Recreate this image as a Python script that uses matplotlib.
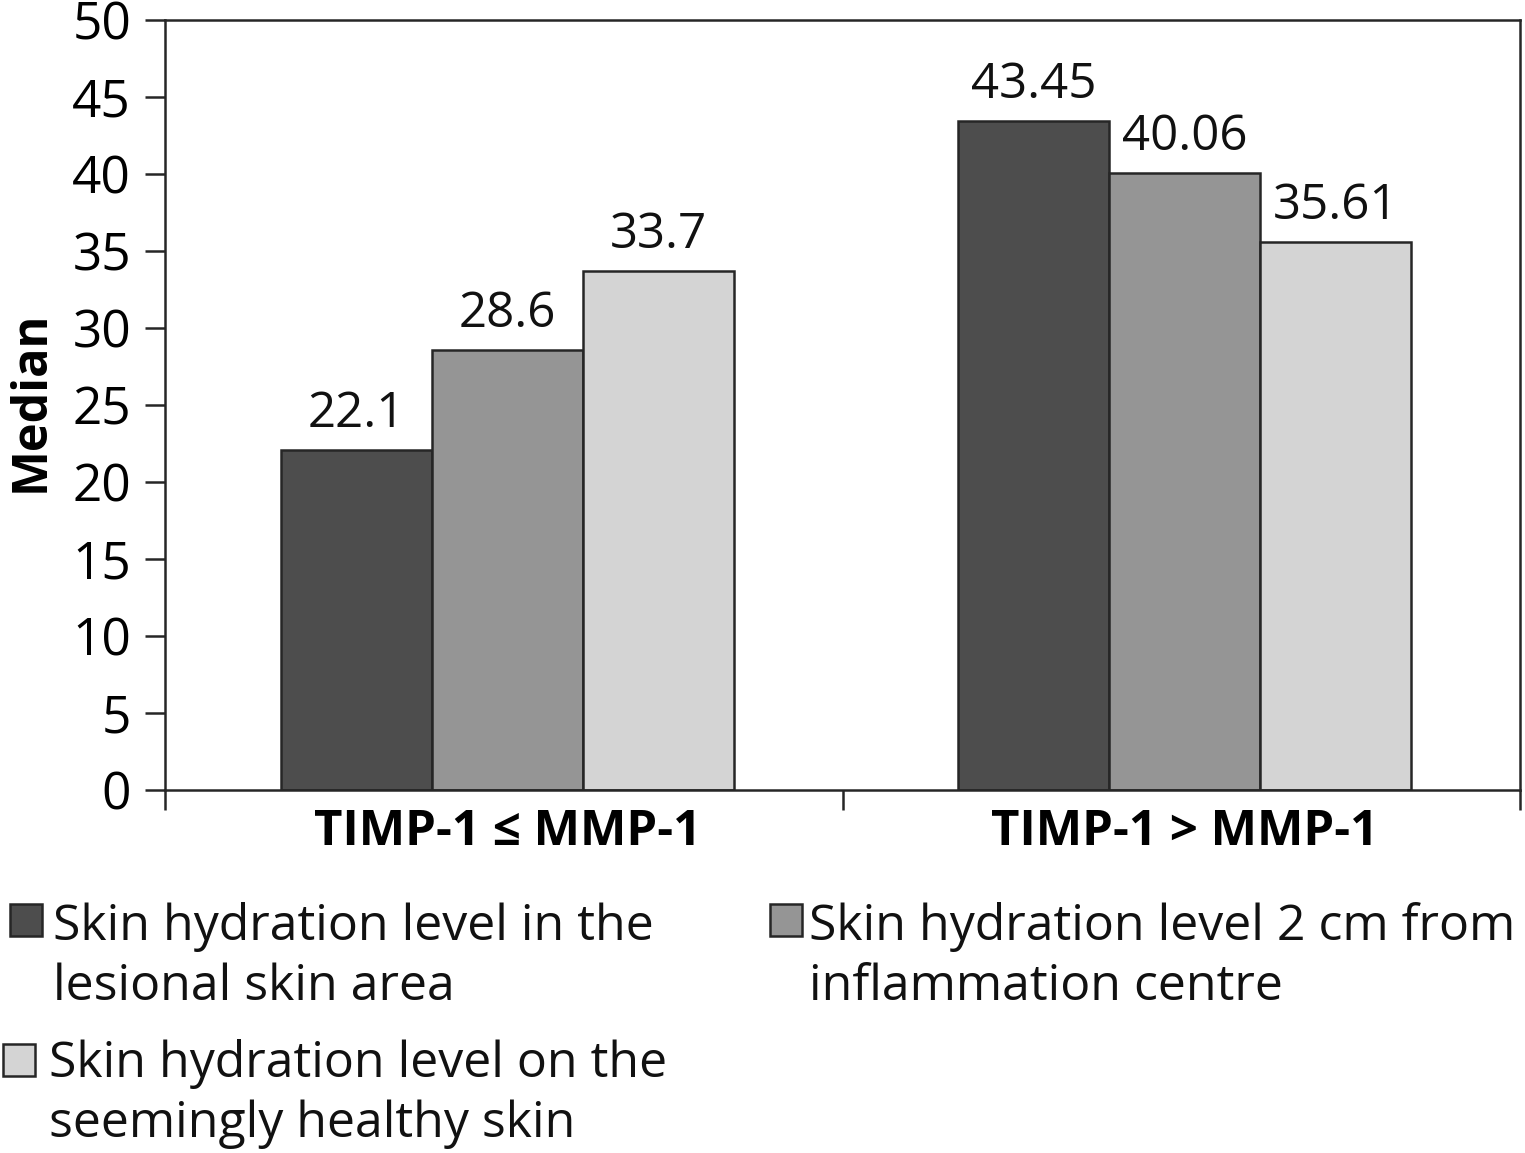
import matplotlib
matplotlib.use("Agg")
import matplotlib.pyplot as plt
from matplotlib.patches import Rectangle
import numpy as np

plt.rcParams['font.family'] = ['Open Sans', 'DejaVu Sans']

groups = ['TIMP-1 ≤ MMP-1', 'TIMP-1 > MMP-1']
series_names = [['Skin hydration level in the', 'lesional skin area'],
                ['Skin hydration level 2 cm from', 'inflammation centre'],
                ['Skin hydration level on the', 'seemingly healthy skin']]
lesional = [22.1, 43.45]
two_cm = [28.6, 40.06]
healthy = [33.7, 35.61]
labels_lesional = ['22.1', '43.45']
labels_two_cm = ['28.6', '40.06']
labels_healthy = ['33.7', '35.61']

colors = ['#4d4d4d', '#959595', '#d4d4d4']
edge = '#262626'

W, H = 1525, 1153
fig = plt.figure(figsize=(W / 100, H / 100), dpi=100)
ax = fig.add_axes([165 / W, 1 - 790 / H, 1355 / W, 770 / H])

x = np.arange(len(groups))
w = 0.223
all_vals = [lesional, two_cm, healthy]
all_labels = [labels_lesional, labels_two_cm, labels_healthy]
for i, (vals, labs) in enumerate(zip(all_vals, all_labels)):
    bars = ax.bar(x + 0.005 + (i - 1) * w, vals, w, color=colors[i], edgecolor=edge,
                  linewidth=1.8)
    for b, lab in zip(bars, labs):
        ax.text(b.get_x() + b.get_width() / 2, b.get_height() + 0.7, lab,
                ha='center', va='bottom', fontsize=35.5, color='#111111')

ax.set_xlim(-0.5, 1.5)
ax.set_ylim(0, 50)
ax.set_yticks(range(0, 51, 5))
ax.tick_params(axis='y', labelsize=37, length=14.4, width=1.8, color=edge, pad=10)
ax.set_xticks([-0.5, 0.5, 1.5])
ax.set_xticklabels([])
ax.tick_params(axis='x', length=14.4, width=1.8, color=edge)
for xi, g in zip(x, groups):
    ax.text(xi + 0.005, -1.2, g, ha='center', va='top', fontsize=35.5, fontweight='bold')
for s in ax.spines.values():
    s.set_linewidth(1.8)
    s.set_color(edge)
fig.text(31 / W, 1 - 401 / H, 'Median', rotation=90, ha='center', va='center',
         fontsize=35, fontweight='bold')

# legend drawn by hand so that each box sits beside the first line of its label
legend_pos = [(10, 904, 53, 940), (770, 904, 809, 940), (3, 1044, 49, 1077)]
for (bx, by, tx, ty), c, name in zip(legend_pos, colors, series_names):
    fig.add_artist(Rectangle((bx / W, 1 - (by + 32) / H), 32 / W, 32 / H,
                             transform=fig.transFigure, facecolor=c,
                             edgecolor=edge, linewidth=1.8))
    for k, line in enumerate(name):
        fig.text(tx / W, 1 - (ty + 60 * k) / H, line, ha='left', va='baseline',
                 fontsize=36, color='#111111')

fig.savefig('out.png', dpi=100)
